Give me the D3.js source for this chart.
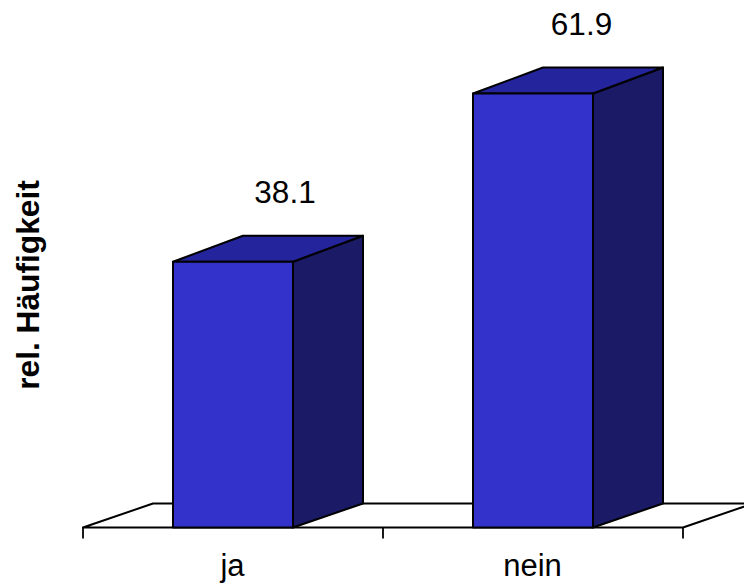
<!DOCTYPE html>
<html>
<head>
<meta charset="utf-8">
<script src="https://cdnjs.cloudflare.com/ajax/libs/d3/7.8.5/d3.min.js"></script>
<style>
html,body{margin:0;padding:0;background:#fff;overflow:hidden}
text{font-family:"Liberation Sans",Arial,sans-serif;fill:#000}
</style>
</head>
<body>
<svg id="chart" width="744" height="583"></svg>
<script>
const categories = ["ja", "nein"];
const values = [38.1, 61.9];
const yTitle = "rel. Häufigkeit";

const svg = d3.select("#chart");
const x = d3.scaleBand().domain(categories).range([83, 683]).paddingInner(0.6).paddingOuter(0.3);
const y = d3.scaleLinear().domain([0, 61.9]).range([531, 93.5]);
const labelShift = d3.scaleOrdinal().domain(categories).range([52, 48.5]);
const dx = 70, dyBase = -24, dyTop = -26;
const line = d3.line();
const base = 527.5;
const left = x.range()[0], right = x.range()[1];

// floor
svg.append("path")
  .attr("d", line([[left, base], [left + dx, base + dyBase], [right + dx, base + dyBase], [right, base]]) + "Z")
  .attr("fill", "#fff").attr("stroke", "#000").attr("stroke-width", 2).attr("stroke-linejoin", "round");

// ticks
const edges = [left].concat(categories.map(c => x(c) + x.bandwidth() + x.step() * 0.3));
svg.selectAll(".tick").data(edges).join("line").attr("class", "tick")
  .attr("x1", d => d).attr("x2", d => d).attr("y1", base).attr("y2", base + 11)
  .attr("stroke", "#000").attr("stroke-width", 1.8);

// bars
const bars = svg.selectAll(".bar").data(categories.map((c, i) => ({c, v: values[i]}))).join("g").attr("class", "bar")
  .attr("stroke", "#000").attr("stroke-width", 2).attr("stroke-linejoin", "round");
bars.append("path").attr("fill", "#1a1a66").attr("d", d => {
  const r = x(d.c) + x.bandwidth(), t = y(d.v);
  return line([[r, base], [r + dx, base + dyBase], [r + dx, t + dyTop], [r, t]]) + "Z";
});
bars.append("path").attr("fill", "#24249c").attr("d", d => {
  const l = x(d.c), r = l + x.bandwidth(), t = y(d.v);
  return line([[l, t], [l + dx, t + dyTop], [r + dx, t + dyTop], [r, t]]) + "Z";
});
bars.append("path").attr("fill", "#3333cc").attr("d", d => {
  const l = x(d.c), r = l + x.bandwidth(), t = y(d.v);
  return line([[l, base], [l, t], [r, t], [r, base]]) + "Z";
});

// value labels
svg.selectAll(".val").data(categories.map((c, i) => ({c, v: values[i]}))).join("text").attr("class", "val")
  .attr("x", d => x(d.c) + x.bandwidth() / 2 + labelShift(d.c))
  .attr("y", d => y(d.v) - 59)
  .attr("text-anchor", "middle").attr("font-size", 31.5).text(d => d.v.toFixed(1));

// category labels
svg.selectAll(".cat").data(categories).join("text").attr("class", "cat")
  .attr("x", d => x(d) + x.bandwidth() / 2 - 0.5).attr("y", 576)
  .attr("text-anchor", "middle").attr("font-size", 31).text(d => d);

// y title
svg.append("text").attr("transform", "translate(39,285) rotate(-90)")
  .attr("text-anchor", "middle").attr("font-size", 31.7).attr("font-weight", "bold").text(yTitle);
</script>
</body>
</html>
